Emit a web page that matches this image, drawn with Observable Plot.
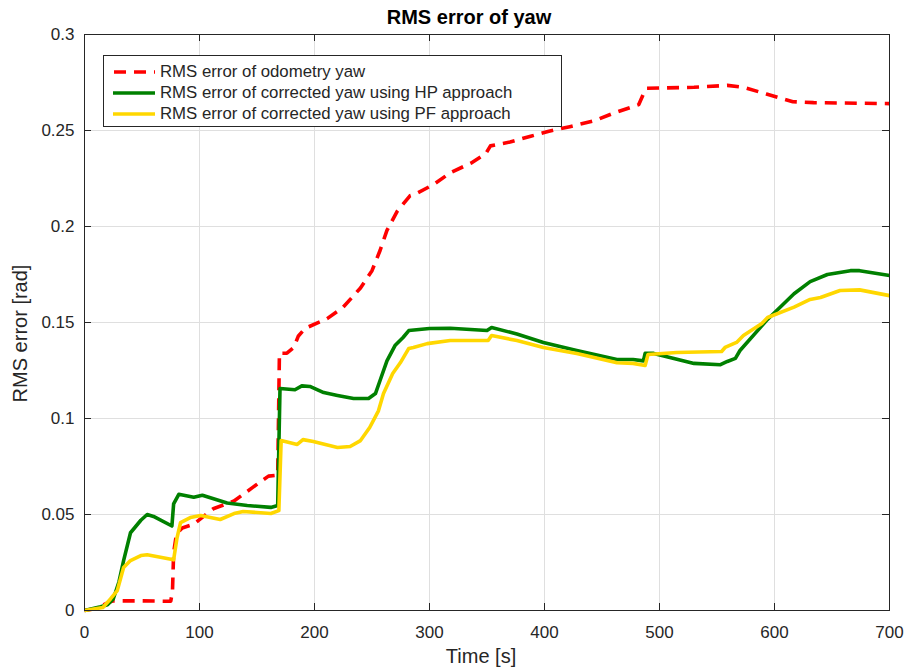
<!DOCTYPE html>
<html>
<head>
<meta charset="utf-8">
<script src="https://cdn.jsdelivr.net/npm/d3@7"></script>
<script src="https://cdn.jsdelivr.net/npm/@observablehq/plot@0.6"></script>
<style>
  body { margin: 0; background: #fff; font-family: "Liberation Sans", Arial, sans-serif; }
  #wrap { position: relative; width: 904px; height: 671px; }
  #legend { position: absolute; left: 103px; top: 55px; width: 459px; height: 72px; border: 1px solid #262626;
            background: #fff; box-sizing: border-box; font-size: 16.8px; color: #262626; }
  .row { position: absolute; left: 9px; height: 20px; display: flex; align-items: center; white-space: nowrap; }
  .row svg { margin-right: 5px; }
</style>
</head>
<body>
<div id="wrap"></div>
<script>
// ---- Data ----
const titleText = "RMS error of yaw";
const xLabel = "Time [s]";
const yLabel = "RMS error [rad]";
const xTicks = [0, 100, 200, 300, 400, 500, 600, 700];
const yTicks = [0, 0.05, 0.1, 0.15, 0.2, 0.25, 0.3];

const odoName = "RMS error of odometry yaw";
const odoT = [0, 10, 20, 25, 50, 75, 76.5, 77.5, 80, 85, 95, 112, 130, 146, 160, 168, 169.5, 176, 182, 186, 192, 211, 225, 240, 250, 257, 263, 272, 283, 288, 304, 318, 336, 349, 353, 370, 388, 403, 422, 443, 460, 482, 486, 489, 530, 559, 573, 593, 616, 634, 700];
const odoV = [0, 0.001, 0.004, 0.005, 0.005, 0.0048, 0.01, 0.03, 0.04, 0.043, 0.045, 0.053, 0.057, 0.064, 0.070, 0.0705, 0.134, 0.134, 0.137, 0.143, 0.147, 0.152, 0.158, 0.168, 0.177, 0.1875, 0.198, 0.208, 0.216, 0.217, 0.222, 0.228, 0.233, 0.238, 0.242, 0.244, 0.247, 0.2495, 0.252, 0.255, 0.259, 0.2635, 0.269, 0.272, 0.2725, 0.2735, 0.2725, 0.269, 0.265, 0.2645, 0.264];

const hpName = "RMS error of corrected yaw using HP approach";
const hpT = [0, 14, 20, 25, 30, 34, 40, 49, 54.5, 60, 76, 77.5, 82, 95, 102.5, 124, 141.5, 162, 168, 170, 183, 189, 196, 208, 220, 234, 247, 253, 257, 263, 270, 277, 282, 300, 318, 350, 354, 376, 399, 428, 463, 477, 486, 487.5, 495, 530, 553, 559, 566, 570, 593, 617, 631, 646, 666, 674, 700];
const hpV = [0, 0.002, 0.003, 0.006, 0.015, 0.026, 0.0405, 0.047, 0.050, 0.049, 0.044, 0.0555, 0.0605, 0.059, 0.060, 0.056, 0.0547, 0.0537, 0.0547, 0.1156, 0.115, 0.117, 0.1167, 0.1135, 0.112, 0.1104, 0.1104, 0.113, 0.1198, 0.130, 0.138, 0.1422, 0.1458, 0.1469, 0.147, 0.1458, 0.1474, 0.144, 0.1396, 0.1354, 0.1307, 0.1307, 0.130, 0.1339, 0.1339, 0.1287, 0.128, 0.1297, 0.1313, 0.1354, 0.151, 0.165, 0.1713, 0.175, 0.177, 0.177, 0.1745];

const pfName = "RMS error of corrected yaw using PF approach";
const pfT = [0, 16, 22.6, 28.5, 34, 40, 49, 54.5, 66, 77.5, 80.5, 83.5, 92, 101, 118, 130, 138, 162, 169, 171, 185, 190, 199, 220, 231, 240, 248, 255.6, 260, 268, 274.6, 282, 286, 298, 318, 351, 354, 376, 399, 428, 463, 477, 487.5, 490, 515, 554, 557, 567, 573, 589, 594, 617, 631, 640, 657, 674, 700];
const pfV = [0, 0.0016, 0.006, 0.0104, 0.0224, 0.026, 0.0286, 0.029, 0.0277, 0.0264, 0.038, 0.0458, 0.0484, 0.0495, 0.0474, 0.0505, 0.0516, 0.0505, 0.052, 0.0885, 0.0865, 0.089, 0.088, 0.0849, 0.0854, 0.0885, 0.0953, 0.104, 0.113, 0.1234, 0.129, 0.1365, 0.137, 0.139, 0.1406, 0.1406, 0.1432, 0.1406, 0.137, 0.1339, 0.129, 0.1287, 0.1276, 0.1333, 0.1344, 0.1349, 0.137, 0.1396, 0.1432, 0.1495, 0.1526, 0.158, 0.162, 0.163, 0.1667, 0.167, 0.164];

// ---- Styles ----
const series = [
  {name: odoName, t: odoT, v: odoV, color: "#ff0000", dash: "12,8"},
  {name: hpName, t: hpT, v: hpV, color: "#008000", dash: null},
  {name: pfName, t: pfT, v: pfV, color: "#ffd700", dash: null}
];
const LW = 3.6;
const axisColor = "#262626";
const gridColor = "#dfdfdf";
const W = 904, H = 671, mL = 84, mR = 15, mT = 34, mB = 61;
const plotW = W - mL - mR, plotH = H - mT - mB, tick = 7;
const font = "'Liberation Sans', Arial, sans-serif";

const lineMarks = series.map(s =>
  Plot.line(s.t.map((t, i) => ({t, v: s.v[i]})), {
    x: "t", y: "v", stroke: s.color, strokeWidth: LW,
    strokeDasharray: s.dash || undefined, strokeLinejoin: "round", strokeLinecap: "butt"
  })
);

const chart = Plot.plot({
  width: W, height: H,
  marginLeft: mL, marginRight: mR, marginTop: mT, marginBottom: mB,
  style: {fontFamily: font, fontSize: "17px", color: axisColor, background: "#fff"},
  x: {domain: [0, 700]},
  y: {domain: [0, 0.3]},
  marks: [
    Plot.gridX(xTicks, {stroke: gridColor, strokeOpacity: 1}),
    Plot.gridY(yTicks, {stroke: gridColor, strokeOpacity: 1}),
    Plot.axisX(xTicks, {tickSize: 0, tickPadding: 15, fontSize: 17, label: null}),
    Plot.axisY(yTicks, {tickSize: 0, tickPadding: 10, fontSize: 17, tickFormat: d => String(d), label: null}),
    ...lineMarks,
    Plot.ruleX(xTicks, {stroke: axisColor, insetTop: plotH - tick}),
    Plot.ruleX(xTicks, {stroke: axisColor, insetBottom: plotH - tick}),
    Plot.ruleY(yTicks, {stroke: axisColor, insetRight: plotW - tick}),
    Plot.ruleY(yTicks, {stroke: axisColor, insetLeft: plotW - tick}),
    Plot.frame({stroke: axisColor, strokeWidth: 1}),
    Plot.text([titleText], {frameAnchor: "top", lineAnchor: "middle", textAnchor: "middle", dy: -17, dx: -18, fontWeight: "bold", fontSize: 20, fill: "#000"}),
    Plot.text([xLabel], {frameAnchor: "bottom", lineAnchor: "middle", textAnchor: "middle", dy: 46, dx: -6, fontSize: 20, fill: axisColor}),
    Plot.text([yLabel], {frameAnchor: "left", lineAnchor: "middle", textAnchor: "middle", rotate: -90, dx: -64, dy: 11, fontSize: 20, fill: axisColor})
  ]
});

const wrap = document.getElementById("wrap");
wrap.appendChild(chart);

// legend (HTML overlay)
const legend = document.createElement("div");
legend.id = "legend";
series.forEach((s, i) => {
  const row = document.createElement("div");
  row.className = "row";
  row.style.top = (6 + i * 21) + "px";
  row.innerHTML = `<svg width="42" height="20"><line x1="0" x2="42" y1="10" y2="10" stroke="${s.color}" stroke-width="${LW}" ${s.dash ? `stroke-dasharray="${s.dash}" stroke-dashoffset="-1"` : ""}/></svg><span>${s.name}</span>`;
  legend.appendChild(row);
});
wrap.appendChild(legend);
</script>
</body>
</html>
